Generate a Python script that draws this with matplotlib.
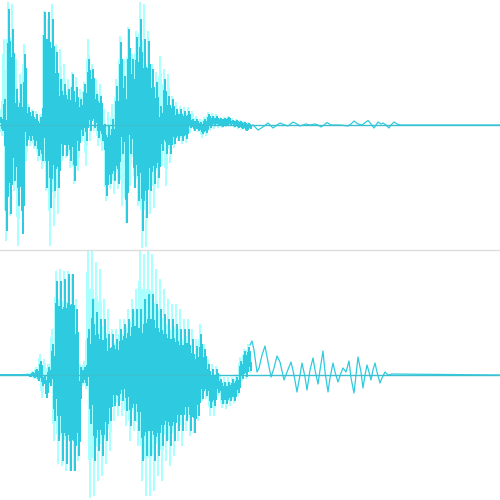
import numpy as np
import matplotlib
matplotlib.use("Agg")
import matplotlib.pyplot as plt
from matplotlib.lines import Line2D

# ---- data: amplitude in units of +/-125 (full scale), time in columns 0..500 ----
step = 4  # envelope read every 4 columns, x = 0, 4, ..., 248

# top channel, light trace: (peak up, peak down) per step
top_light_hi = [15, 85, 122, 120, 65, 50, 80, 20, 15, 13, 10, 113, 105, 120, 80, 75,
                60, 45, 52, 47, 35, 42, 85, 60, 45, 40, 15, 12, 20, 45, 88, 65,
                97, 70, 93, 122, 120, 93, 60, 52, 68, 55, 50, 28, 22, 18, 17, 17,
                13, 8, 5, 7, 12, 11, 10, 7, 7, 8, 6, 5, 4, 3, 2]
top_light_lo = [-10, -115, -90, -65, -120, -50, -35, -20, -23, -35, -43, -65, -120, -100, -88, -35,
                -32, -42, -58, -45, -15, -40, -15, -5, -20, -25, -75, -63, -68, -63, -80, -97,
                -60, -50, -80, -122, -121, -88, -82, -62, -40, -60, -37, -22, -15, -18, -17, -7,
                -5, -6, -12, -10, -5, -3, -2, -2, -1, 0, -2, -3, -4, -5, -3]
# top channel, dark trace
top_dark_hi = [7, 25, 115, 95, 35, 40, 70, 17, 13, 10, 7, 112, 112, 105, 72, 45,
               40, 35, 50, 37, 25, 40, 65, 55, 30, 28, 0, -2, 5, 38, 82, 48,
               95, 65, 87, 105, 85, 83, 55, 42, 18, 45, 28, 25, 15, 15, 13, 13,
               5, 5, 2, 5, 10, 8, 8, 6, 6, 7, 4, 4, 3, 2, 1]
top_dark_lo = [-5, -105, -88, -55, -80, -108, -20, -15, -20, -30, -35, -62, -82, -65, -62, -30,
               -30, -35, -55, -25, -10, -15, -5, -2, -12, -15, -70, -58, -55, -58, -28, -97,
               -28, -62, -75, -105, -92, -65, -58, -52, -25, -28, -28, -18, -15, -15, -13, -2,
               -5, -5, -8, -7, -2, 0, 0, -1, 0, 1, -1, -2, -3, -5, -3]
# top channel tail (quiet part), read point by point
top_tail_x = [250, 253, 258, 263, 268, 273, 277, 280, 285, 288, 293, 297, 300, 306, 310,
              315, 318, 321, 324, 327, 331, 340, 348, 351, 354, 358, 362, 368, 371, 374,
              378, 381, 383, 386, 389, 391, 394, 397, 400, 500]
top_tail_y = [-1, 0, -5, -2, 2, -3, 0, 2, 0, -1, 3, 1, -1, 1, 0,
              1, 0, -2, 0, 2.5, 0, 0, -1, 1, 4, 1, 0, 4.5, 1, -3,
              3, 1, 2, 0, -3, 0, 3, 1, 0, 0]

# bottom channel, light trace
bot_light_hi = [0, 0, 0, 0, 0, 0, 0, 1, 3, 7, 20, 15, 10, 45, 103, 105,
                103, 103, 100, 75, 10, 13, 123, 123, 112, 105, 75, 65, 45, 45, 55, 55,
                65, 75, 85, 123, 120, 123, 120, 105, 95, 85, 75, 70, 70, 65, 55, 55,
                45, 35, 50, 30, 15, 10, 8, 0, -3, -3, -3, 0, 17, 25, 30]
bot_light_lo = [0, 0, 0, 0, 0, 0, 0, -1, -3, -5, -22, -10, -7, -65, -88, -90,
                -95, -95, -95, -85, -10, -13, -122, -120, -105, -100, -88, -75, -45, -40, -40, -50,
                -65, -55, -70, -105, -120, -120, -115, -100, -105, -85, -90, -80, -65, -70, -55, -60,
                -57, -45, -25, -23, -40, -40, -20, -32, -33, -30, -27, -20, -5, -3, 3]
# bottom channel, dark trace
bot_dark_hi = [0, 0, 0, 0, 0, 0, 0, 0, 2, 5, 13, -2, 7, 30, 93, 93,
               95, 100, 100, 65, 7, 7, 45, 75, 62, 55, 55, 40, 40, 35, 45, 50,
               55, 65, 65, 65, 75, 80, 80, 70, 65, 60, 55, 55, 50, 45, 45, 45,
               35, 28, 40, 25, 10, 5, 5, -5, -8, -8, -5, -3, 13, 23, 27]
bot_dark_lo = [0, 0, 0, 0, 0, 0, 0, -1, -2, -5, -10, -22, -10, -45, -65, -85,
               -88, -95, -95, -80, -7, -10, -48, -85, -75, -80, -65, -45, -30, -30, -25, -35,
               -50, -45, -55, -85, -80, -80, -85, -80, -70, -65, -70, -65, -55, -55, -45, -55,
               -57, -40, -23, -20, -32, -30, -17, -28, -28, -25, -25, -17, -3, -1, 5]
# bottom channel tail, read point by point
bot_tail_x = [250, 252, 254, 256, 257, 259, 262, 265, 268, 271, 274, 277, 280, 284, 287,
              291, 294, 297, 300, 302, 305, 307, 310, 313, 315, 318, 320, 323, 325, 328,
              330, 333, 335, 338, 341, 343, 346, 349, 351, 354, 356, 358, 361, 363, 365,
              367, 369, 371, 373, 375, 377, 380, 382, 385, 388, 392, 500]
bot_tail_y = [30, 34, 25, 10, 3, 7, 20, 29, 13, -2, 7, 19, 13, -5, 3,
              13, 0, -17, 0, 12, -2, -15, 5, 17, 5, -9, 5, 24, 3, -17,
              -3, 12, 3, -7, 2, 7, 3, 14, -3, -18, 0, 18, 3, -13, 0,
              10, 3, -5, 5, 12, 3, -8, -3, 3, 0, 1, 0]

DARK = "#2ECBE0"
LIGHT = "#AAFFFF"
AXIS = "#3DBFD0"
SEP = "#DDDDDD"


def trace(hi, lo, offset):
    n = len(hi)
    k = np.arange(n) * step + offset
    xs = np.empty(2 * n)
    ys = np.empty(2 * n)
    xs[0::2] = k
    xs[1::2] = k + step / 2
    ys[0::2] = hi
    ys[1::2] = lo
    return xs, ys


fig = plt.figure(figsize=(5, 5), dpi=100)
fig.patch.set_facecolor("white")

channels = [
    (top_light_hi, top_light_lo, top_dark_hi, top_dark_lo, top_tail_x, top_tail_y),
    (bot_light_hi, bot_light_lo, bot_dark_hi, bot_dark_lo, bot_tail_x, bot_tail_y),
]
for i, (lh, ll, dh, dl, tx, ty) in enumerate(channels):
    ax = fig.add_axes([0, 0.5 - 0.5 * i, 1, 0.5])
    ax.set_xlim(0, 500)
    ax.set_ylim(-125, 125)
    ax.axis("off")
    xl, yl = trace(lh, ll, 0)
    ax.plot(xl, yl, color=LIGHT, lw=1.0, antialiased=False, zorder=1)
    xd, yd = trace(dh, dl, 1)
    ax.plot(xd, yd, color=DARK, lw=1.0, antialiased=False, zorder=2)
    ax.plot(tx, ty, color=DARK, lw=0.9, antialiased=True, zorder=2)
    ax.axhline(0, color=AXIS, lw=1.0, zorder=3)

fig.add_artist(Line2D([0, 1], [0.5, 0.5], transform=fig.transFigure, color=SEP, lw=1.0))

fig.savefig("out.png", dpi=100, facecolor="white")
